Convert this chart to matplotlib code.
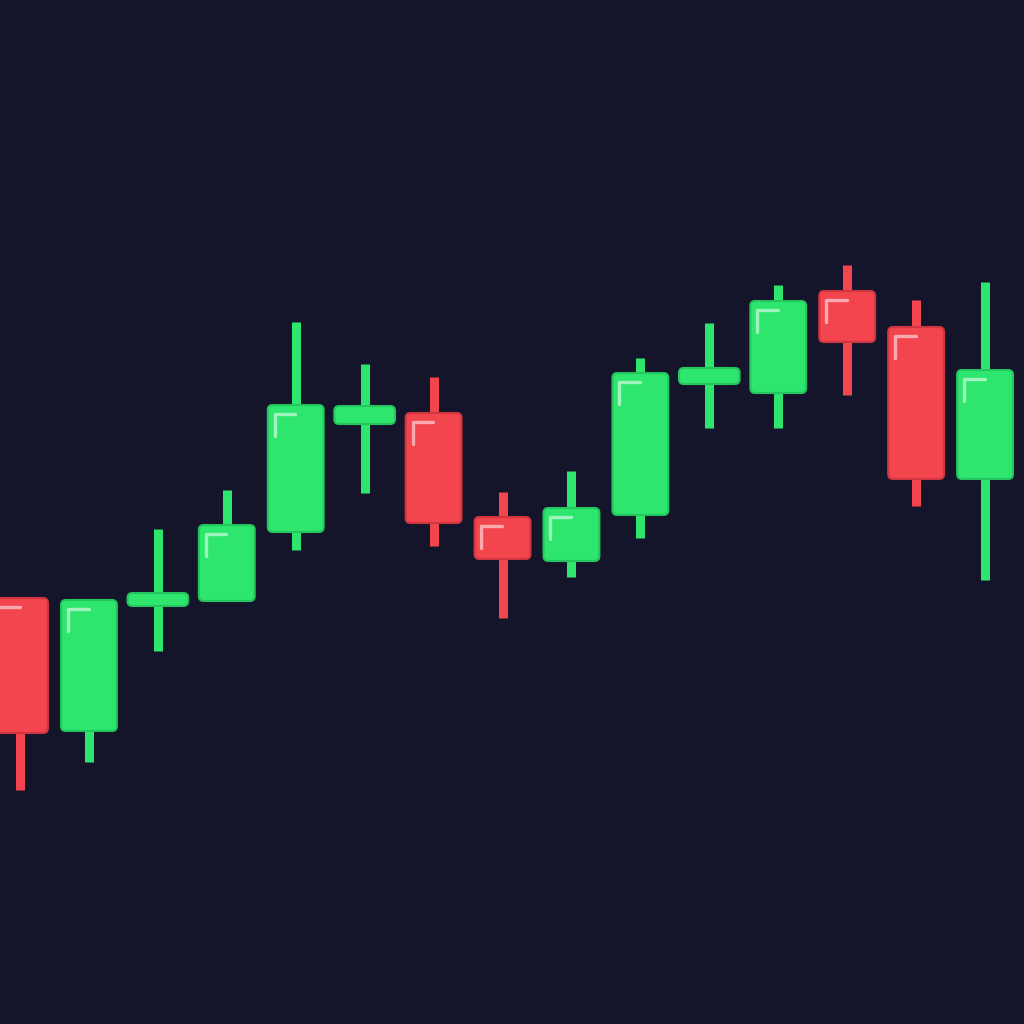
import numpy as np
import matplotlib.pyplot as plt
from matplotlib.patches import FancyBboxPatch

# OHLC values for each session
opens  = [42.6, 29.3, 41.8, 42.3, 49.2, 60.0, 61.1, 50.7, 46.3, 50.9, 64.0, 63.1, 73.3, 69.7, 54.5]
highs  = [42.6, 42.4, 49.5, 53.4, 70.2, 66.0, 64.7, 53.2, 55.3, 66.6, 70.1, 73.9, 75.9, 72.4, 74.2]
lows   = [23.4, 26.2, 37.3, 42.3, 47.4, 53.1, 47.8, 40.6, 44.7, 48.6, 59.6, 59.6, 62.9, 51.8, 44.4]
closes = [29.1, 42.4, 43.1, 49.9, 61.9, 61.8, 50.1, 46.5, 51.6, 65.1, 65.6, 72.3, 68.2, 54.5, 65.4]

BG = "#14142b"
UP = "#2ee66e"
DOWN = "#f2454e"
UP_EDGE = "#24c45e"
DOWN_EDGE = "#d0363f"

fig = plt.figure(figsize=(10.24, 10.24), dpi=100)
fig.patch.set_facecolor(BG)
ax = fig.add_axes([0, 0, 1, 1])
ax.set_facecolor(BG)

n = len(opens)
x = np.arange(n)
ax.set_xlim(-0.29, 14.565)
ax.set_ylim(0, 102.4)
ax.axis("off")

# pixels per data unit, for rounding the corners evenly
px_x = 1024 / (ax.get_xlim()[1] - ax.get_xlim()[0])
px_y = 1024 / 102.4
aspect = px_x / px_y

for i in range(n):
    o, h, l, c = opens[i], highs[i], lows[i], closes[i]
    up = c >= o
    col = UP if up else DOWN
    edge = UP_EDGE if up else DOWN_EDGE
    top, bot = max(o, c), min(o, c)
    doji = (top - bot) < 3
    w = 0.88 if doji else 0.81

    # wick
    ax.plot([x[i], x[i]], [l, h], color=col, lw=6.5, solid_capstyle="butt", zorder=1)

    # body
    body = FancyBboxPatch((x[i] - w / 2, bot), w, top - bot,
                          boxstyle="round,pad=0,rounding_size=0.07",
                          mutation_aspect=aspect,
                          facecolor=col, edgecolor=edge, lw=1.5, zorder=2)
    ax.add_patch(body)

    # soft gloss on the top-left corner
    if not doji:
        gx = x[i] - w / 2 + 0.1
        gy = top - 0.9
        ax.plot([gx, gx, gx + 0.3], [gy - 2.2, gy, gy],
                color="white", alpha=0.55, lw=2.4, solid_capstyle="round",
                solid_joinstyle="round", zorder=3)

plt.savefig("out.png", dpi=100, facecolor=BG)
